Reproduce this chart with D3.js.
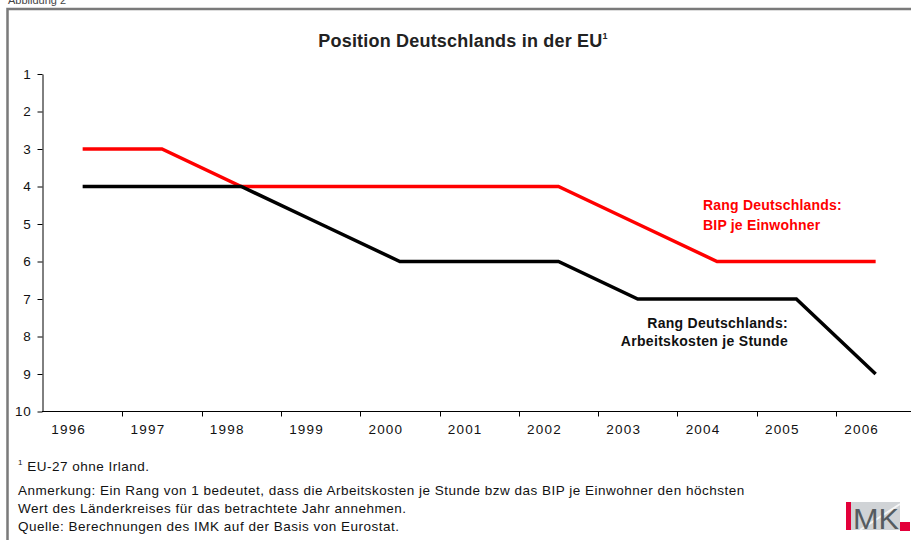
<!DOCTYPE html>
<html>
<head>
<meta charset="utf-8">
<script src="https://cdn.jsdelivr.net/npm/d3@7"></script>
<style>
  body { margin: 0; background: #fff; }
  svg { display: block; font-family: "Liberation Sans", Arial, sans-serif; }
</style>
</head>
<body>
<div id="chart"></div>
<script>
// data
var years = ["1996", "1997", "1998", "1999", "2000", "2001", "2002", "2003", "2004", "2005", "2006"];
var rangBIP = [3, 3, 4, 4, 4, 4, 4, 5, 6, 6, 6];
var rangArbeitskosten = [4, 4, 4, 5, 6, 6, 6, 7, 7, 7, 9];
var yTicks = [1, 2, 3, 4, 5, 6, 7, 8, 9, 10];

var width = 911, height = 540;

var svg = d3.select("#chart").append("svg")
    .attr("width", width)
    .attr("height", height);

// frame
svg.append("rect")
    .attr("x", 7.5).attr("y", 9)
    .attr("width", 960).attr("height", 600)
    .attr("fill", "none")
    .attr("stroke", "#7a7a7a")
    .attr("stroke-width", 2.5);

svg.append("text")
    .attr("x", 8).attr("y", 4)
    .attr("font-size", "11px")
    .attr("fill", "#444")
    .text("Abbildung 2");

// title
var title = svg.append("text")
    .attr("x", 463).attr("y", 47)
    .attr("text-anchor", "middle")
    .attr("font-size", "18px")
    .attr("font-weight", "bold")
    .attr("letter-spacing", "0.2px")
    .attr("fill", "#222")
    .text("Position Deutschlands in der EU");
title.append("tspan")
    .attr("font-size", "9px")
    .attr("dy", -8)
    .text("1");

// scales
var xscale = d3.scaleBand()
    .domain(years)
    .range([43, 43 + 11 * 79.3])
    .padding(0);

var yscale = d3.scaleLinear()
    .domain([1, 10])
    .range([74, 411.5]);

function cx(d) { return xscale(d) + xscale.bandwidth() / 2; }

// y axis
var yAxis = svg.append("g")
    .attr("transform", "translate(42.5,0)")
    .call(d3.axisLeft(yscale).tickValues(yTicks).tickSize(5).tickPadding(6).tickSizeOuter(0));
yAxis.select(".domain").attr("stroke", "#000");
yAxis.selectAll("text")
    .attr("font-size", "13.5px")
    .attr("letter-spacing", "0.8px")
    .attr("font-family", "Liberation Sans, Arial, sans-serif")
    .attr("fill", "#111");

// x axis
var xg = svg.append("g").attr("transform", "translate(0,411.5)");
xg.append("line")
    .attr("x1", 42).attr("x2", width)
    .attr("stroke", "#000");
xg.selectAll(".tick")
    .data(years.slice(1))
    .join("line")
    .attr("class", "tick")
    .attr("x1", function(d) { return Math.round(xscale(d)) + 0.5; })
    .attr("x2", function(d) { return Math.round(xscale(d)) + 0.5; })
    .attr("y1", 0).attr("y2", 5)
    .attr("stroke", "#000");
xg.selectAll(".lbl")
    .data(years)
    .join("text")
    .attr("class", "lbl")
    .attr("x", function(d) { return cx(d) - 14; })
    .attr("y", 22)
    .attr("text-anchor", "middle")
    .attr("font-size", "13.5px")
    .attr("letter-spacing", "1.2px")
    .attr("fill", "#111")
    .text(function(d) { return d; });

// lines
var line = d3.line()
    .x(function(d, i) { return cx(years[i]); })
    .y(function(d) { return yscale(d); });

svg.append("path")
    .datum(rangBIP)
    .attr("d", line)
    .attr("fill", "none")
    .attr("stroke", "#ff0000")
    .attr("stroke-width", 3.5);

svg.append("path")
    .datum(rangArbeitskosten)
    .attr("d", line)
    .attr("fill", "none")
    .attr("stroke", "#000")
    .attr("stroke-width", 3.5);

// series labels
var redLbl = svg.append("text")
    .attr("font-size", "14px")
    .attr("font-weight", "bold")
    .attr("letter-spacing", "0.2px")
    .attr("fill", "#ff0000");
redLbl.append("tspan").attr("x", 703).attr("y", 210).text("Rang Deutschlands:");
redLbl.append("tspan").attr("x", 703).attr("y", 230).text("BIP je Einwohner");

var blackLbl = svg.append("text")
    .attr("font-size", "14px")
    .attr("font-weight", "bold")
    .attr("letter-spacing", "0.3px")
    .attr("fill", "#111")
    .attr("text-anchor", "end");
blackLbl.append("tspan").attr("x", 788).attr("y", 328).text("Rang Deutschlands:");
blackLbl.append("tspan").attr("x", 788).attr("y", 346).text("Arbeitskosten je Stunde");

// footnotes
var foot = svg.append("g")
    .attr("font-size", "13.5px")
    .attr("letter-spacing", "0.5px")
    .attr("fill", "#111");
var f1 = foot.append("text").attr("x", 18).attr("y", 471);
f1.append("tspan").attr("font-size", "8px").attr("dy", -6).text("1");
f1.append("tspan").attr("dy", 6).text(" EU-27 ohne Irland.");
foot.append("text").attr("x", 18).attr("y", 495)
    .text("Anmerkung: Ein Rang von 1 bedeutet, dass die Arbeitskosten je Stunde bzw das BIP je Einwohner den höchsten");
foot.append("text").attr("x", 18).attr("y", 513)
    .text("Wert des Länderkreises für das betrachtete Jahr annehmen.");
foot.append("text").attr("x", 18).attr("y", 531)
    .text("Quelle: Berechnungen des IMK auf der Basis von Eurostat.");

// IMK logo
var logo = svg.append("g");
logo.append("rect").attr("x", 851).attr("y", 502).attr("width", 49).attr("height", 28).attr("fill", "#d0d3d6");
logo.append("line").attr("x1", 860).attr("y1", 530).attr("x2", 900).attr("y2", 504)
    .attr("stroke", "#fff").attr("stroke-width", 2).attr("opacity", 0.8);
logo.append("rect").attr("x", 846).attr("y", 502).attr("width", 5).attr("height", 28).attr("fill", "#e3003a");
logo.append("rect").attr("x", 900).attr("y", 522).attr("width", 10).attr("height", 9).attr("fill", "#e3003a");
logo.append("text").attr("x", 853).attr("y", 529)
    .attr("font-size", "30px")
    .attr("fill", "#555b60")
    .attr("textLength", 46)
    .attr("lengthAdjust", "spacingAndGlyphs")
    .text("MK");
</script>
</body>
</html>
